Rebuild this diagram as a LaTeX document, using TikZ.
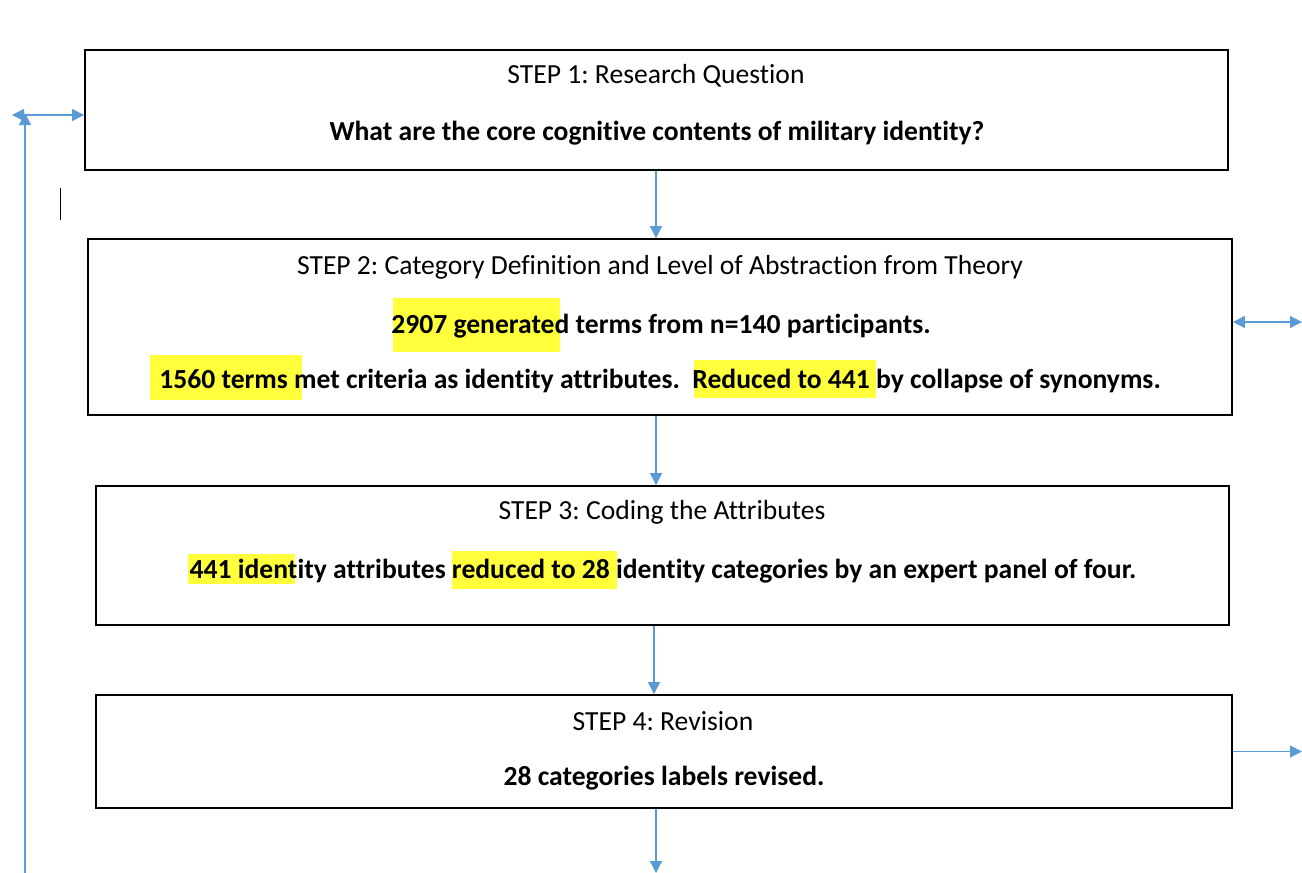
\documentclass[tikz,border=0pt]{standalone}
\usepackage{fontspec}
\setmainfont[Ligatures={NoCommon}]{Carlito}
\usetikzlibrary{arrows.meta}
\definecolor{flowblue}{HTML}{5B9BD5}
\definecolor{hlyellow}{HTML}{FFFF3C}
\frenchspacing

\begin{document}
\begin{tikzpicture}[x=1pt,y=-1pt,
  stepbox/.style={draw=black,line width=1.8pt,inner sep=0pt},
  flow/.style={draw=flowblue,line width=1.1pt,-{Triangle[length=12pt,width=12pt]}},
  dflow/.style={draw=flowblue,line width=1.1pt,{Triangle[length=12pt,width=12pt]}-{Triangle[length=12pt,width=12pt]}},
  txt/.style={inner sep=0pt,font=\fontsize{27.6}{32}\selectfont},
  btxt/.style={inner sep=0pt,font=\fontsize{27.6}{32}\selectfont\bfseries}]
  \useasboundingbox (0,0) rectangle (1302,873);

  % boxes
  \node[stepbox,minimum width=1143pt,minimum height=120pt] (b1) at (656.5,110) {};
  \node[stepbox,minimum width=1144pt,minimum height=176pt] (b2) at (660,327) {};
  \node[stepbox,minimum width=1133pt,minimum height=139pt] (b3) at (662.5,555.5) {};
  \node[stepbox,minimum width=1136pt,minimum height=113pt] (b4) at (664,751.5) {};

  % highlights
  \fill[hlyellow] (393,298) rectangle (560,352);
  \fill[hlyellow] (150,355) rectangle (302,400);
  \fill[hlyellow] (694,360) rectangle (876,398);
  \fill[hlyellow] (188,554) rectangle (295,584);
  \fill[hlyellow] (452,551) rectangle (617,589);

  % texts
  \node[txt] (t1) at (656,76) {STEP 1: Research Question};
  \node[btxt] (q1) at (657,133) {What are the core cognitive contents of military identity?};
  \node[txt] (t2) at (660,267) {STEP 2: Category Definition and Level of Abstraction from Theory};
  \node[btxt] (q2) at (661,326) {2907 generated terms from n=140 participants.};
  \node[btxt] (r2) at (660,381) {1560 terms met criteria as identity attributes.\ \ Reduced to 441 by collapse of synonyms.};
  \node[txt] (t3) at (662,512) {STEP 3: Coding the Attributes};
  \node[btxt] (q3) at (663,571) {441 identity attributes reduced to 28 identity categories by an expert panel of four.};
  \node[txt] (t4) at (663,721) {STEP 4: Revision};
  \node[btxt] (q4) at (664,778) {28 categories labels revised.};

  % free ends
  \coordinate (e2) at (1302,322);
  \coordinate (e4) at (1302,751.5);
  \coordinate (down) at (656,873);
  \coordinate (lb) at (25,873);
  \coordinate (lt) at (25,113);
  \coordinate (ll) at (12,115);

  % connectors
  \draw[flow] (b1.south -| 656,0) -- (b2.north -| 656,0);
  \draw[flow] (b2.south -| 656,0) -- (b3.north -| 656,0);
  \draw[flow] (b3.south -| 654,0) -- (b4.north -| 654,0);
  \draw[flow] (b4.south -| down) -- (down);
  \draw[dflow] (b2.east |- e2) -- (e2);
  \draw[flow] (b4.east |- e4) -- (e4);
  \draw[flow] (lb) -- (lt);
  \draw[dflow] (ll) -- (b1.west |- ll);

  \draw[line width=1pt] (60,188) -- (60,220);
\end{tikzpicture}
\end{document}
